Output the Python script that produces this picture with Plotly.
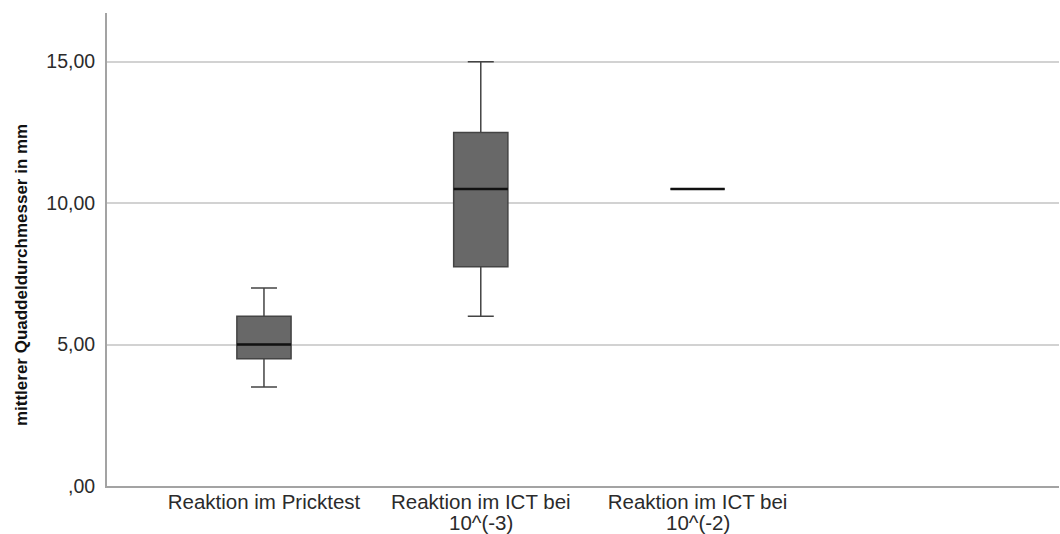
import plotly.graph_objects as go

# Category labels (x axis); a "\n" marks a wrapped label
categories = [
    "Reaktion im Pricktest",
    "Reaktion im ICT bei\n10^(-3)",
    "Reaktion im ICT bei\n10^(-2)",
]

# Box statistics per category (mm)
lower_whisker = [3.5, 6.0, 10.5]
q1_values = [4.5, 7.75, 10.5]
median_values = [5.0, 10.5, 10.5]
q3_values = [6.0, 12.5, 10.5]
upper_whisker = [7.0, 15.0, 10.5]

# Y axis ticks (German decimal format)
y_tick_values = [0, 5, 10, 15]
y_tick_labels = [",00", "5,00", "10,00", "15,00"]

y_title = "mittlerer Quaddeldurchmesser in mm"

positions = list(range(len(categories)))
box_width = 0.25
label_font = dict(family="Liberation Sans, Arial, sans-serif", size=20.5, color="#2b2b2b")

fig = go.Figure()

fig.add_trace(go.Box(
    x=positions,
    q1=q1_values,
    median=median_values,
    q3=q3_values,
    lowerfence=lower_whisker,
    upperfence=upper_whisker,
    width=box_width,
    whiskerwidth=0.48,
    fillcolor="#686868",
    line=dict(color="#444444", width=1.5),
    boxpoints=False,
    showlegend=False,
    hoverinfo="skip",
))

# Heavier median strokes on top of each box
med_x, med_y = [], []
for pos, med in zip(positions, median_values):
    med_x += [pos - box_width / 2, pos + box_width / 2, None]
    med_y += [med, med, None]
fig.add_trace(go.Scatter(
    x=med_x, y=med_y, mode="lines",
    line=dict(color="#111111", width=2.5),
    showlegend=False, hoverinfo="skip",
))

# First label line as tick text, continuation lines set tighter below it
first_lines = [c.split("\n")[0] for c in categories]
annotations = []
for pos, cat in zip(positions, categories):
    for k, extra in enumerate(cat.split("\n")[1:], start=1):
        annotations.append(dict(
            text=extra, xref="x", yref="paper", x=pos, y=0,
            xanchor="center", yanchor="top", yshift=-2 - 21 * k,
            showarrow=False, font=label_font,
        ))

annotations.append(dict(
    text=y_title,
    xref="paper", yref="paper",
    x=-0.0903, y=0.446,
    xanchor="center", yanchor="middle",
    textangle=-90,
    showarrow=False,
    font=dict(family="Liberation Sans, Arial, sans-serif", size=17, color="#111111", weight="bold"),
))

fig.update_layout(
    width=1060,
    height=534,
    margin=dict(l=107, r=1, t=13, b=48),
    paper_bgcolor="white",
    plot_bgcolor="white",
    font=dict(family="Liberation Sans, Arial, sans-serif", size=20, color="#2b2b2b"),
    xaxis=dict(
        range=[-0.724, 3.667],
        tickmode="array",
        tickvals=positions,
        ticktext=first_lines,
        showgrid=False,
        zeroline=False,
        showline=True,
        linecolor="#a3a3a3",
        linewidth=2,
        ticks="",
        automargin=False,
        ticklabelstandoff=-4,
        tickfont=label_font,
    ),
    yaxis=dict(
        range=[0, 16.72],
        tickmode="array",
        tickvals=y_tick_values,
        ticktext=y_tick_labels,
        showgrid=True,
        gridcolor="#d2d2d2",
        gridwidth=1.5,
        zeroline=False,
        showline=True,
        linecolor="#a3a3a3",
        linewidth=2,
        ticks="",
        automargin=False,
        ticklabelstandoff=6,
        tickfont=dict(size=19.5),
    ),
    annotations=annotations,
)

fig.write_html("out.html")
